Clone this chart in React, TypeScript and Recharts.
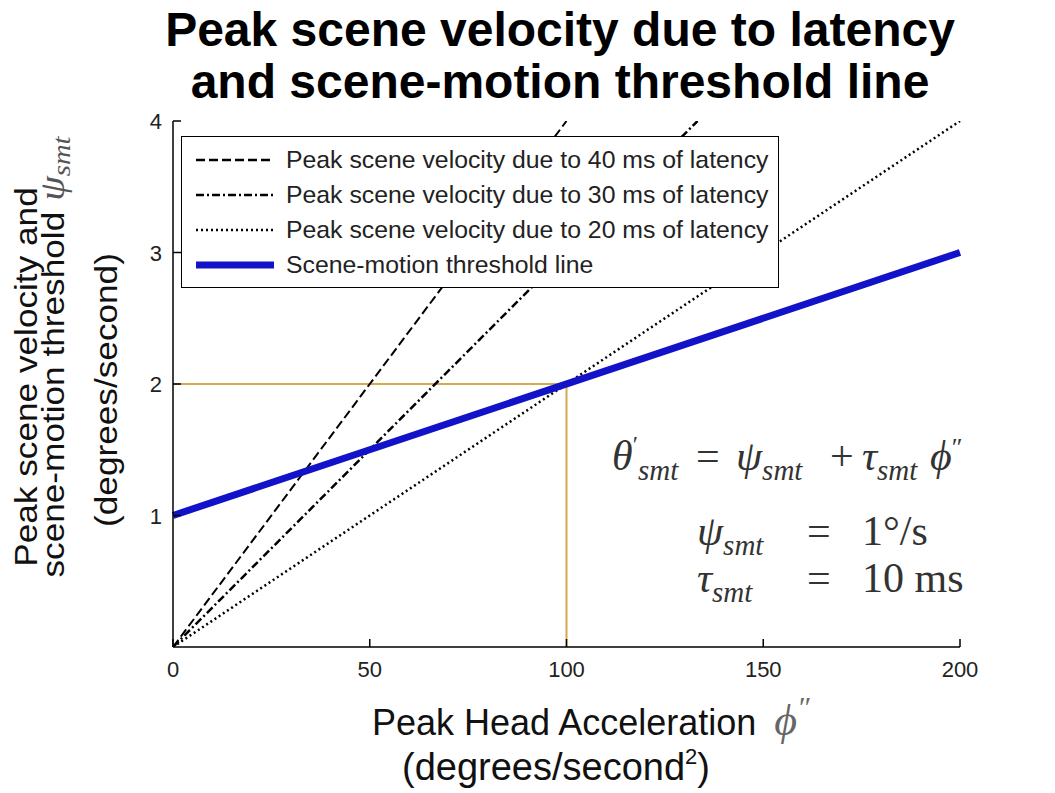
import React from 'react';
import { LineChart, Line, XAxis, YAxis, Legend } from 'recharts';

// values (x = head accel, y = scene velocity)
const lat40 = [{ x: 0, y: 0 }, { x: 100, y: 4 }];
const lat30 = [{ x: 0, y: 0 }, { x: 133.3, y: 4 }];
const lat20 = [{ x: 0, y: 0 }, { x: 200, y: 4 }];
const threshold = [{ x: 0, y: 1 }, { x: 200, y: 3 }];
const guide = [{ x: 0, y: 2 }, { x: 100, y: 2 }, { x: 100, y: 0 }];

const X_TICKS = [0, 50, 100, 150, 200];
const Y_TICKS = [1, 2, 3, 4];

const LEGEND_ITEMS = [
  { label: 'Peak scene velocity due to 40 ms of latency', dash: '9 4', width: 2.5, color: '#000' },
  { label: 'Peak scene velocity due to 30 ms of latency', dash: '8 3 2 3', width: 2.5, color: '#000' },
  { label: 'Peak scene velocity due to 20 ms of latency', dash: '2 3', width: 2.5, color: '#000' },
  { label: 'Scene-motion threshold line', dash: undefined, width: 7, color: '#1212c8' },
];

const SANS = '"Liberation Sans", Arial, sans-serif';
const SERIF = '"Liberation Serif", "DejaVu Serif", serif';
const TICK_GAP = 10;
const TICK_LEN = 8;

const XTick = (props: any) => {
  const { x, y, payload } = props;
  const axisY = y - TICK_GAP;
  return (
    <g>
      <line x1={x} x2={x} y1={axisY} y2={axisY - TICK_LEN} stroke="#000" strokeWidth={1.5} />
      <text x={x} y={axisY + 30} textAnchor="middle" fontSize={22} fontFamily={SANS} fill="#222">
        {payload.value}
      </text>
    </g>
  );
};

const YTick = (props: any) => {
  const { x, y, payload } = props;
  const axisX = x + TICK_GAP;
  return (
    <g>
      <line x1={axisX} x2={axisX + TICK_LEN} y1={y} y2={y} stroke="#000" strokeWidth={1.5} />
      <text x={x - 1} y={y + 8} textAnchor="end" fontSize={22} fontFamily={SANS} fill="#222">
        {payload.value}
      </text>
    </g>
  );
};

const renderLegend = () => (
  <div
    style={{
      background: '#fff',
      border: '1.5px solid #000',
      padding: '5px 10px 5px 14px',
      fontFamily: SANS,
      fontSize: 24.8,
      color: '#222',
    }}
  >
    {LEGEND_ITEMS.map((it) => (
      <div key={it.label} style={{ display: 'flex', alignItems: 'center', height: 35 }}>
        <svg width={78} height={12} style={{ marginRight: 12 }}>
          <line x1={0} x2={78} y1={6} y2={6} stroke={it.color} strokeWidth={it.width} strokeDasharray={it.dash} />
        </svg>
        <span style={{ whiteSpace: 'nowrap' }}>{it.label}</span>
      </div>
    ))}
  </div>
);

export default function App() {
  return (
    <div style={{ position: 'absolute', left: 0, top: 0, width: 1055, height: 793, background: '#fff' }}>
      <LineChart width={1055} height={793} margin={{ top: 121, right: 95, bottom: 106, left: 133 }}>
        <XAxis
          type="number"
          dataKey="x"
          domain={[0, 200]}
          ticks={X_TICKS}
          height={40}
          tickSize={0}
          tickMargin={TICK_GAP}
          tick={<XTick />}
          axisLine={{ stroke: '#000', strokeWidth: 1.5 }}
          tickLine={false}
        />
        <YAxis
          type="number"
          dataKey="y"
          domain={[0, 4]}
          ticks={Y_TICKS}
          width={40}
          tickSize={0}
          tickMargin={TICK_GAP}
          tick={<YTick />}
          axisLine={{ stroke: '#000', strokeWidth: 1.5 }}
          tickLine={false}
          allowDataOverflow
        />
        <Line data={guide} dataKey="y" stroke="#d6aa4c" strokeWidth={2} dot={false} isAnimationActive={false} legendType="none" />
        <Line data={lat40} dataKey="y" stroke="#000" strokeWidth={2} strokeDasharray="9 4" dot={false} isAnimationActive={false} />
        <Line data={lat30} dataKey="y" stroke="#000" strokeWidth={2.5} strokeDasharray="8 3 2 3" dot={false} isAnimationActive={false} />
        <Line data={lat20} dataKey="y" stroke="#000" strokeWidth={2.5} strokeDasharray="2 3" dot={false} isAnimationActive={false} />
        <Line data={threshold} dataKey="y" stroke="#1212c8" strokeWidth={7} dot={false} isAnimationActive={false} />
        <Legend
          layout="horizontal"
          verticalAlign="middle"
          align="center"
          content={renderLegend}
          wrapperStyle={{ left: 181, top: 136, width: 'auto', height: 'auto' }}
        />
      </LineChart>

      <svg width={1055} height={793} style={{ position: 'absolute', left: 0, top: 0, pointerEvents: 'none' }}>
        {/* title */}
        <text x={560} y={46} textAnchor="middle" fontFamily={SANS} fontWeight="bold" fontSize={48} fill="#000">
          Peak scene velocity due to latency
        </text>
        <text x={560} y={98} textAnchor="middle" fontFamily={SANS} fontWeight="bold" fontSize={48} fill="#000">
          and scene-motion threshold line
        </text>

        {/* y label (stretched along the text like the source image) */}
        <text transform="translate(37,377) rotate(-90) scale(1.1,1)" textAnchor="middle" fontFamily={SANS} fontSize={32} fill="#111">
          Peak scene velocity and
        </text>
        <text transform="translate(64,357) rotate(-90) scale(1.1,1)" textAnchor="middle" fontFamily={SANS} fontSize={32} fill="#111">
          scene-motion threshold
          <tspan dx={10} fontFamily={SERIF} fontStyle="italic" fontSize={36} fill="#555">ψ</tspan>
          <tspan dy={6} fontFamily={SERIF} fontStyle="italic" fontSize={26} fill="#555">smt</tspan>
        </text>
        <text transform="translate(117,390) rotate(-90) scale(1.1,1)" textAnchor="middle" fontFamily={SANS} fontSize={32} fill="#111">
          (degrees/second)
        </text>

        {/* x label */}
        <text x={372} y={735} fontFamily={SANS} fontSize={36} fill="#111">
          Peak Head Acceleration
          <tspan dx={18} fontFamily={SERIF} fontStyle="italic" fontSize={44} fill="#666">ϕ</tspan>
          <tspan dy={-18} fontFamily={SERIF} fontStyle="italic" fontSize={30} fill="#666">″</tspan>
        </text>
        <text x={556} y={780} textAnchor="middle" fontFamily={SANS} fontSize={38} fill="#111">
          (degrees/second
          <tspan dy={-16} fontSize={22}>2</tspan>
          <tspan dy={16}>)</tspan>
        </text>

        {/* formulas */}
        <text x={612} y={470} fontFamily={SERIF} fontStyle="italic" fontSize={42} fill="#333">
          θ
          <tspan dy={-18} fontSize={24} fontStyle="normal">′</tspan>
          <tspan x={638} dy={28} fontSize={29}>smt</tspan>
          <tspan x={696} dy={-10} fontStyle="normal">=</tspan>
          <tspan x={736}>ψ</tspan>
          <tspan dy={10} fontSize={29}>smt</tspan>
          <tspan x={830} dy={-10} fontStyle="normal">+</tspan>
          <tspan x={862}>τ</tspan>
          <tspan dy={10} fontSize={29}>smt</tspan>
          <tspan x={930} dy={-10}>ϕ</tspan>
          <tspan dy={-14} fontSize={26} fontStyle="normal">″</tspan>
        </text>
        <text x={697} y={545} fontFamily={SERIF} fontStyle="italic" fontSize={42} fill="#333">
          ψ
          <tspan dy={10} fontSize={29}>smt</tspan>
          <tspan x={807} dy={-10} fontStyle="normal">=</tspan>
          <tspan x={862} fontStyle="normal">1°/s</tspan>
        </text>
        <text x={697} y={592} fontFamily={SERIF} fontStyle="italic" fontSize={42} fill="#333">
          τ
          <tspan dy={10} fontSize={29}>smt</tspan>
          <tspan x={807} dy={-10} fontStyle="normal">=</tspan>
          <tspan x={862} fontStyle="normal">10 ms</tspan>
        </text>
      </svg>
    </div>
  );
}
